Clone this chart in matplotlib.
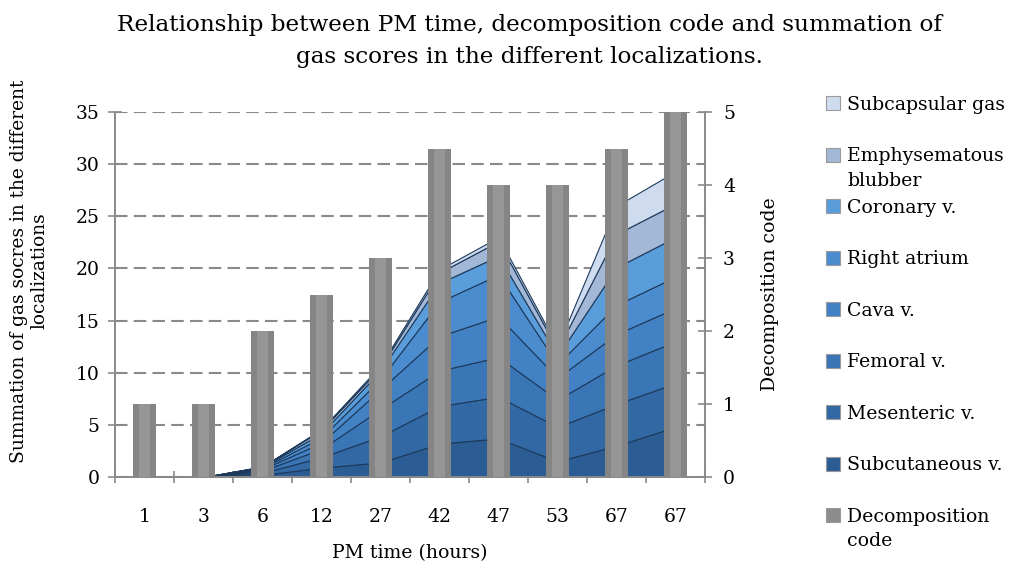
import numpy as np
import matplotlib.pyplot as plt
from matplotlib.patches import Rectangle

plt.rcParams['font.family'] = ['DejaVu Serif']

pm_time = ['1', '3', '6', '12', '27', '42', '47', '53', '67', '67']
decomposition = [1, 1, 2, 2.5, 3, 4.5, 4, 4, 4.5, 5]

# gas scores per localization, bottom of the stack first
subcutaneous = [0, 0, 0.2, 0.9, 1.4, 3.2, 3.7, 1.5, 3.0, 4.8]
mesenteric = [0, 0, 0.2, 1.0, 2.5, 3.6, 4.0, 3.3, 4.0, 4.2]
femoral = [0, 0, 0.2, 0.8, 2.6, 3.4, 3.8, 2.6, 3.7, 4.0]
cava = [0, 0, 0.15, 0.6, 1.9, 3.3, 3.9, 2.1, 3.0, 3.2]
right_atrium = [0, 0, 0.1, 0.5, 1.0, 3.3, 4.0, 1.3, 2.8, 3.0]
coronary = [0, 0, 0.1, 0.4, 0.8, 1.8, 1.8, 0.8, 3.6, 3.8]
emphysematous = [0, 0, 0.05, 0.3, 0.3, 1.0, 1.4, 0.6, 3.2, 3.2]
subcapsular = [0, 0, 0, 0.1, 0.2, 0.3, 0.4, 0.3, 2.7, 3.1]

layers = [subcutaneous, mesenteric, femoral, cava, right_atrium,
          coronary, emphysematous, subcapsular]
layer_names = ['Subcutaneous v.', 'Mesenteric v.', 'Femoral v.', 'Cava v.',
               'Right atrium', 'Coronary v.', 'Emphysematous\nblubber',
               'Subcapsular gas']
layer_colors = ['#2b5d94', '#3268a4', '#3a76b6', '#4281c4', '#4a8cce',
                '#5a9ddb', '#a3b8d6', '#cfdbee']

W, H = 1011, 571
fig = plt.figure(figsize=(W / 100, H / 100), dpi=100)
ax = fig.add_axes([115 / W, 1 - 477 / H, 590 / W, 365 / H])
x = np.arange(len(pm_time))

ax.stackplot(x, *layers, colors=layer_colors, edgecolor='#1d3a5c',
             linewidth=0.8, zorder=2)
ax.set_xlim(-0.5, len(pm_time) - 0.5)
ax.set_ylim(0, 35)
ax.set_yticks(range(0, 36, 5))
ax.grid(axis='y', color='#8a8a8a', linestyle=(0, (6, 3)), linewidth=1.5, zorder=0)
ax.set_axisbelow(True)

ax.set_xticks(x)
ax.set_xticklabels(pm_time)
ax.set_xticks(np.arange(-0.5, len(pm_time)), minor=True)
ax.tick_params(axis='x', which='major', length=0, pad=22, labelsize=13.5)
ax.tick_params(axis='x', which='minor', length=8, direction='inout',
               color='#8a8a8a', width=1.2)
ax.tick_params(axis='y', length=10, direction='inout', color='#8a8a8a',
               width=1.2, labelsize=13.5, pad=6)

for side in ['left', 'bottom', 'right']:
    ax.spines[side].set_color('#8a8a8a')
    ax.spines[side].set_linewidth(1.2)
ax.spines['top'].set_visible(False)

ax2 = ax.twinx()
ax2.bar(x, decomposition, width=0.4, color='#858585', linewidth=0, zorder=3)
ax2.bar(x, decomposition, width=0.2, color='#969696', linewidth=0, zorder=4)
ax2.set_ylim(0, 5)
ax2.set_yticks(range(0, 6))
ax2.tick_params(axis='y', length=10, direction='inout', color='#8a8a8a',
                width=1.2, labelsize=13.5, pad=8)
for side in ['left', 'bottom', 'right']:
    ax2.spines[side].set_color('#8a8a8a')
    ax2.spines[side].set_linewidth(1.2)
ax2.spines['top'].set_visible(False)

ax.set_xlabel('PM time (hours)', fontsize=13.6, va='center')
ax.xaxis.set_label_coords(0.5, (477 - 553) / 365)
ax.set_ylabel('Summation of gas socres in the different\nlocalizations',
              fontsize=13.4, linespacing=1.2, va='center')
ax.yaxis.set_label_coords((29 - 115) / 590, (477 - 271) / 365)
ax2.set_ylabel('Decomposition code', fontsize=13.6, va='center')
ax2.yaxis.set_label_coords((770 - 115) / 590, 0.5)

fig.text(0.524, 1 - 25 / H, 'Relationship between PM time, decomposition code and summation of',
         ha='center', va='center', fontsize=16.7)
fig.text(0.524, 1 - 57 / H, 'gas scores in the different localizations.',
         ha='center', va='center', fontsize=16.7)

# legend on the right, top entry first
legend_names = layer_names[::-1] + ['Decomposition\ncode']
legend_colors = layer_colors[::-1] + ['#8c8c8c']
for i, (name, col) in enumerate(zip(legend_names, legend_colors)):
    yc = 103.3 + 51.5 * i
    fig.add_artist(Rectangle((826 / W, 1 - (yc + 7) / H), 14 / W, 14 / H,
                             transform=fig.transFigure, facecolor=col,
                             edgecolor='#9a9a9a', linewidth=0.8))
    fig.text(847 / W, 1 - (yc - 7.5) / H, name, ha='left', va='top',
             fontsize=13.6, linespacing=1.45)

fig.savefig('out.png', dpi=100)
